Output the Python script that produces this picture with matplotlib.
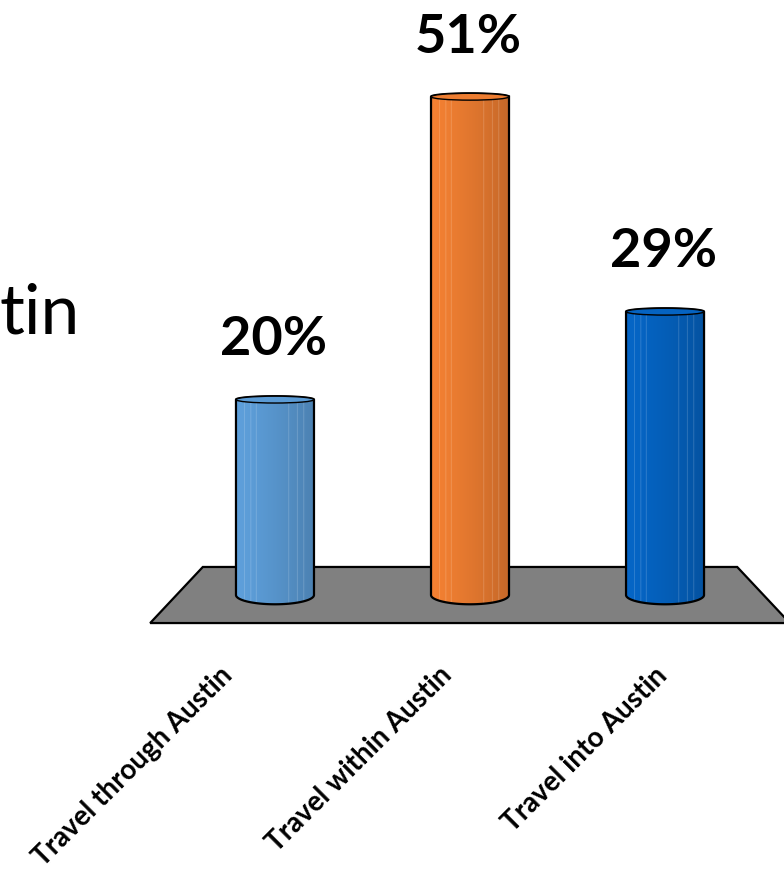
import numpy as np
import matplotlib
matplotlib.use("Agg")
import matplotlib.pyplot as plt
from matplotlib.path import Path
from matplotlib.patches import PathPatch, Polygon, Ellipse
from matplotlib.colors import to_rgb
from matplotlib.transforms import offset_copy

# ---- data ----
categories = ["Travel through Austin", "Travel within Austin", "Travel into Austin"]
shares = [20, 51, 29]            # percent of trips
bar_colors = ["#5B9BD5", "#ED7D31", "#0563C1"]
value_labels = [f"{v}%" for v in shares]

plt.rcParams["font.family"] = ["Lato", "DejaVu Sans"]

W, H, DPI = 784, 876, 100
fig = plt.figure(figsize=(W / DPI, H / DPI), dpi=DPI)
ax = fig.add_axes([0, 0, 1, 1])
ax.set_xlim(-1.410, 2.610)
ax.set_ylim(-28.76, 60.90)
ax.axis("off")

x = np.arange(len(categories))
width = 0.40
ell_h = 0.95     # half-height of the base ellipse (value units)
cap_h = 0.35     # half-height of the top cap ellipse
floor_half = 2.87

# grey floor the cylinders stand on
floor = Polygon([(-0.37, floor_half), (2.37, floor_half),
                 (2.64, -floor_half), (-0.64, -floor_half)],
                closed=True, facecolor="#808080", edgecolor="black",
                linewidth=1.6, zorder=1)
ax.add_patch(floor)

# invisible bars give each column its position and height
bars = ax.bar(x, shares, width=width, color="none", edgecolor="none", zorder=0)


def shade_profile(base, n=200):
    """Horizontal colour profile of a cylinder: lighter left, darker right,
    with a few faint highlight lines."""
    r, g, b = to_rgb(base)
    t = np.linspace(0, 1, n)
    f = 1.03 - 0.20 * t ** 1.3
    img = np.stack([np.clip(r * f, 0, 1), np.clip(g * f, 0, 1),
                    np.clip(b * f, 0, 1)], axis=-1)
    for pos in (0.11, 0.19, 0.26, 0.67, 0.78, 0.86):
        i = int(pos * (n - 1))
        img[i] = np.clip(img[i] * 0.6 + 0.4, 0, 1)
    return img[None, :, :]


theta_lo = np.linspace(np.pi, 2 * np.pi, 60)
theta_hi = np.linspace(0, np.pi, 60)

for rect, color in zip(bars, bar_colors):
    x0 = rect.get_x()
    w = rect.get_width()
    top = rect.get_height()
    cx = x0 + w / 2
    x1 = x0 + w

    verts = [(x0, top), (x0, 0)]
    verts += [(cx + w / 2 * np.cos(t), ell_h * np.sin(t)) for t in theta_lo]
    verts += [(x1, top)]
    verts += [(cx + w / 2 * np.cos(t), top + cap_h * np.sin(t)) for t in theta_hi]
    verts += [(x0, top)]
    codes = [Path.MOVETO] + [Path.LINETO] * (len(verts) - 2) + [Path.CLOSEPOLY]
    body = PathPatch(Path(verts, codes), facecolor="none", edgecolor="black",
                     linewidth=1.6, zorder=4)
    ax.add_patch(body)

    im = ax.imshow(shade_profile(color), extent=[x0, x1, -ell_h, top + cap_h],
                   aspect="auto", interpolation="bilinear", zorder=3)
    im.set_clip_path(body)

    cap = Ellipse((cx, top), w, 2 * cap_h, facecolor=color,
                  edgecolor="black", linewidth=1.0, zorder=5)
    ax.add_patch(cap)

# value labels above the columns
for rect, lab in zip(bars, value_labels):
    ax.annotate(lab, (rect.get_x() + rect.get_width() / 2, rect.get_height()),
                xytext=(-1, 43), textcoords="offset points",
                ha="center", va="center", fontsize=39, fontweight="bold",
                color="black", zorder=6)

# rotated category labels below the floor
label_shift = [-47, -22, -2]     # horizontal nudge in pixels
for xi, lab, dx in zip(x, categories, label_shift):
    tr = offset_copy(ax.transData, fig=fig, x=dx * 72 / DPI, y=0, units="points")
    ax.text(xi, -7.8, lab, transform=tr, rotation=45, rotation_mode="anchor",
            ha="right", va="center", fontsize=20, fontweight="bold",
            color="black")

# tail of the slide title at the left edge
fig.text(80 / W, 1 - 333 / H, "tin", ha="right", va="baseline",
         fontsize=50, color="black")

fig.savefig("out.png", dpi=DPI, facecolor="white")
